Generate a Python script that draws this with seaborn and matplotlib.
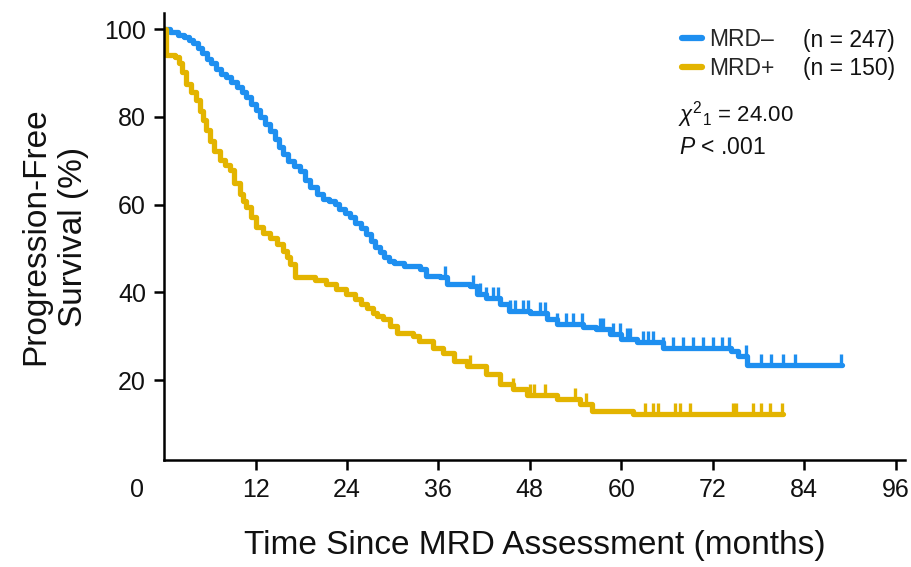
import numpy as np
import pandas as pd
import matplotlib
matplotlib.use("Agg")
import matplotlib.pyplot as plt
import seaborn as sns

# ---------------- data ----------------
neg_time = [0, 0.8, 1.8, 2.6, 3.2, 3.8, 4.4, 5.0, 5.6, 6.2, 6.8, 7.4, 8.1, 8.8, 9.5,
            10.2, 10.8, 11.4, 12.0, 12.6, 13.2, 13.9, 14.5, 15.1, 15.6, 16.3, 17.0,
            17.8, 18.5, 19.2, 20.0, 20.8, 21.6, 22.4, 23.0, 23.7, 24.4, 25.1, 25.8,
            26.5, 27.1, 27.7, 28.3, 28.9, 29.5, 30.2, 31.5, 33.6, 34.4, 36.2, 37.1,
            40.1, 41.0, 42.3, 44.1, 45.3, 48.0, 50.2, 51.5, 55.0, 56.7, 58.5, 60.0,
            62.0, 65.5, 74.4, 75.3, 76.5, 89.0]
neg_surv = [100, 99.4, 98.8, 98.2, 97.6, 96.8, 95.8, 94.6, 93.2, 92.2, 91.0, 89.9,
            89.0, 88.0, 86.9, 85.6, 84.5, 83.0, 81.6, 80.0, 78.4, 76.9, 75.0, 73.2,
            71.6, 70.0, 68.8, 67.6, 65.6, 64.0, 62.4, 61.4, 60.8, 60.2, 59.0, 58.0,
            57.1, 55.8, 54.6, 53.3, 51.8, 50.4, 49.2, 48.0, 47.2, 46.6, 46.1, 45.3,
            43.8, 43.4, 41.9, 41.5, 39.6, 38.8, 37.3, 35.8, 35.2, 33.9, 32.8, 32.0,
            31.6, 30.5, 29.4, 28.6, 27.4, 26.6, 25.5, 23.5, 23.5]
neg_censor = [36.8, 40.6, 41.4, 42.3, 43.2, 43.8, 45.4, 46.0, 47.1, 47.8, 49.3, 50.0,
              51.5, 52.8, 53.7, 54.8, 57.2, 57.6, 58.9, 59.8, 60.7, 61.1, 62.9, 63.5,
              64.2, 65.5, 66.8, 68.1, 69.4, 70.7, 72.0, 73.2, 74.2, 76.4, 78.4, 79.7,
              81.2, 82.8, 88.9]

pos_time = [0, 0.2, 1.4, 2.0, 2.4, 2.9, 3.5, 4.2, 4.7, 5.1, 5.5, 6.0, 6.6, 7.3, 8.0,
            8.6, 9.2, 9.9, 10.4, 10.8, 11.4, 12.1, 13.0, 13.9, 14.8, 15.6, 16.1, 16.5,
            17.2, 19.8, 21.3, 22.6, 23.9, 25.0, 25.8, 26.6, 27.4, 28.0, 28.7, 29.6,
            30.6, 32.7, 33.5, 35.3, 36.6, 38.1, 39.7, 42.3, 44.1, 45.8, 47.6, 51.5,
            54.6, 56.1, 61.6, 81.2]
pos_surv = [100, 94.2, 93.6, 92.2, 90.2, 87.6, 85.6, 83.8, 81.4, 79.2, 77.0, 74.6,
            72.2, 70.1, 69.0, 67.8, 65.0, 62.5, 60.8, 59.4, 57.2, 54.8, 53.6, 52.5,
            51.0, 49.5, 48.0, 46.4, 43.6, 42.8, 41.9, 40.8, 39.6, 38.4, 37.4, 36.5,
            35.4, 34.6, 33.9, 32.4, 30.8, 30.1, 28.9, 27.4, 26.2, 24.3, 23.2, 21.3,
            19.0, 17.9, 16.7, 15.6, 14.6, 12.9, 12.2, 12.2]
pos_censor = [40.1, 45.8, 48.0, 48.5, 50.0, 53.9, 55.4, 63.1, 64.2, 64.8, 67.0, 67.7,
              69.0, 74.7, 75.1, 77.3, 78.4, 79.5, 81.1]

group_labels = ["MRD\u2013", "MRD+"]
n_labels = ["(n = 247)", "(n = 150)"]
stat_lines = [r"$\chi^{2}{}_{1}$ = 24.00", r"$P$ < .001"]
x_ticks = [12, 24, 36, 48, 60, 72, 84, 96]
y_ticks = [20, 40, 60, 80, 100]
x_label = "Time Since MRD Assessment (months)"
y_label = "Progression-Free\nSurvival (%)"

colors = ["#1E8FF0", "#E3B400"]

# ---------------- style ----------------
sns.set_theme(style="ticks")
plt.rcParams["font.family"] = ["Liberation Sans", "DejaVu Sans"]
plt.rcParams["mathtext.fontset"] = "custom"
plt.rcParams["mathtext.rm"] = "Liberation Sans"
plt.rcParams["mathtext.it"] = "Liberation Sans:italic"

fig = plt.figure(figsize=(9.12, 5.67), dpi=100)
ax = fig.add_axes([0.180, 0.189, 0.812, 0.788])

series = [(neg_time, neg_surv, neg_censor), (pos_time, pos_surv, pos_censor)]
for (t, s, c), col, lab in zip(series, colors, group_labels):
    df = pd.DataFrame({"time": t, "surv": s})
    sns.lineplot(data=df, x="time", y="surv", drawstyle="steps-post", color=col,
                 lw=3.8, ax=ax, label=lab, errorbar=None, sort=False)
    t_arr = np.asarray(t)
    s_arr = np.asarray(s)
    idx = np.searchsorted(t_arr, np.asarray(c), side="right") - 1
    cdf = pd.DataFrame({"time": c, "surv": s_arr[idx]})
    sns.scatterplot(data=cdf, x="time", y="surv", marker=2, s=60, color=col,
                    linewidth=2.4, ax=ax, legend=False, zorder=3)

ax.set_xlim(0, 97.2)
ax.set_ylim(1.8, 103.7)
ax.set_xticks(x_ticks)
ax.set_yticks(y_ticks)
ax.tick_params(axis="both", labelsize=18, width=1.8, length=7, pad=6, color="black",
               labelcolor="#111111")
for side in ["top", "right"]:
    ax.spines[side].set_visible(False)
for side in ["left", "bottom"]:
    ax.spines[side].set_linewidth(1.8)
    ax.spines[side].set_color("black")

# corner "0" label shared by both axes
ax.annotate("0", xy=(-3.6, 0), xycoords=("data", "axes fraction"),
            xytext=(0, -13), textcoords="offset points", ha="center", va="top",
            fontsize=18, color="#111111", annotation_clip=False)

ax.set_xlabel(x_label, fontsize=24, color="#111111", labelpad=20)
ax.set_ylabel(y_label, fontsize=24, color="#111111", labelpad=11, linespacing=1.3)

leg = ax.legend(loc="upper left", bbox_to_anchor=(682 / 912, 1 - 28.5 / 567),
                bbox_transform=fig.transFigure, frameon=False, fontsize=16.5,
                handlelength=0.87, handletextpad=0.3, labelspacing=0.22,
                borderpad=0, borderaxespad=0)
for h in leg.get_lines():
    h.set_linewidth(4.5)

fig.canvas.draw()
inv = fig.transFigure.inverted()
for txt, nlab in zip(leg.get_texts(), n_labels):
    bb = txt.get_window_extent()
    y0 = inv.transform((0, bb.y0))[1]
    fig.text(803 / 912, y0, nlab, fontsize=16.5, ha="left", va="bottom", color="#111111")

fig.text(678 / 912, 1 - 115 / 567, stat_lines[0], fontsize=16, ha="left", va="center",
         color="#111111")
fig.text(679 / 912, 1 - 147 / 567, stat_lines[1], fontsize=16.5, ha="left", va="center",
         color="#111111")

fig.savefig("out.png", dpi=100)
